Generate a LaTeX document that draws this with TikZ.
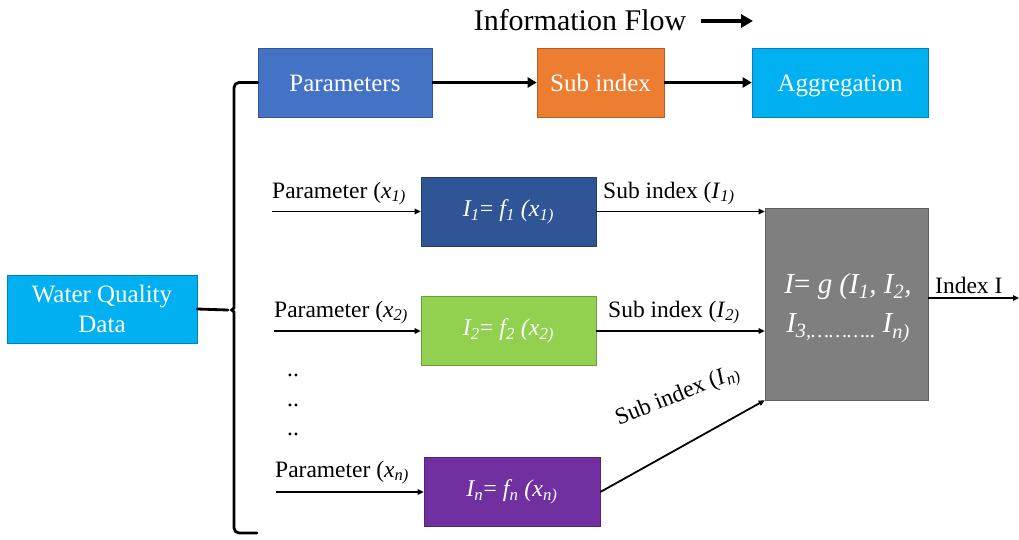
\documentclass[tikz,border=0pt]{standalone}
\usepackage{fontspec}
\setmainfont{Liberation Serif}
\usetikzlibrary{arrows.meta}
\definecolor{cParam}{HTML}{4472C4}
\definecolor{cSub}{HTML}{ED7D31}
\definecolor{cAgg}{HTML}{00B0F0}
\definecolor{cOne}{HTML}{2F5597}
\definecolor{cTwo}{HTML}{92D050}
\definecolor{cEnn}{HTML}{7030A0}
\definecolor{cGray}{HTML}{7F7F7F}
\newcommand{\sbi}[1]{\textsubscript{\itshape #1}}
\newcommand{\eqs}{{\upshape=}}
\begin{document}
\begin{tikzpicture}[x=1pt,y=-1pt,
  box/.style={draw=#1!75!black, fill=#1, line width=0.6pt, inner sep=0pt, text=white},
  boxtxt/.style={font=\fontsize{25}{30}\selectfont, text height=17pt, text depth=0pt},
  fml/.style={font=\fontsize{24}{28}\selectfont\itshape},
  lbl/.style={font=\fontsize{23.5}{27}\selectfont, inner sep=0pt},
  thinarr/.style={line width=1.8pt, -{Triangle[length=6pt,width=5.5pt]}},
  thickarr/.style={line width=3.2pt, -{Triangle[length=9pt,width=10pt]}},
  bracestyle/.style={line width=2.8pt, line cap=round, line join=round}]
\useasboundingbox (0,0) rectangle (1019,539);

% top row
\node[box=cParam, boxtxt, minimum width=174pt, minimum height=69pt] (par) at (345,82.5) {Parameters};
\node[box=cSub, boxtxt, minimum width=127pt, minimum height=69pt] (sub) at (600.5,82.5) {Sub index};
\node[box=cAgg, boxtxt, minimum width=176pt, minimum height=69pt] (agg) at (840,82.5) {Aggregation};
\draw[thickarr] (par) -- (sub);
\draw[thickarr] (sub) -- (agg);

% information flow
\node[font=\fontsize{30}{33}\selectfont, inner sep=0pt] (info) at (580,20) {Information Flow};
\coordinate (fa) at (701,21);
\coordinate (fb) at (753,21);
\draw[line width=4.5pt, -{Triangle[length=12pt,width=13pt]}] (fa) -- (fb);

% water quality data
\node[box=cAgg, align=center, minimum width=190pt, minimum height=68pt, font=\fontsize{25}{30}\selectfont] (wq) at (102,309) {Water Quality\\Data};

% brace
\coordinate (bt) at (228,310);
\coordinate (bb) at (257,533);
\draw[bracestyle] (wq.east) -- (bt);
\draw[bracestyle, rounded corners=5pt] (par.west) -| (234,300) -- (234,303)
   .. controls (234,308) and (231,310) .. (bt)
   .. controls (231,310) and (234,312) .. (234,317) |- (bb);

% formula boxes
\node[box=cOne, fml, minimum width=175pt, minimum height=69pt] (i1) at (508.5,211.5) {I\sbi{1}\eqs{} f\sbi{1} (x\sbi{1)}};
\node[box=cTwo, fml, minimum width=175pt, minimum height=69pt] (i2) at (508.5,331) {I\sbi{2}\eqs{} f\sbi{2} (x\sbi{2)}};
\node[box=cEnn, fml, minimum width=176pt, minimum height=69pt] (in) at (512,492) {I\sbi{n}\eqs{} f\sbi{n} (x\sbi{n)}};

% aggregation box
\node[box=cGray, minimum width=163pt, minimum height=192pt] (gr) at (846.5,304) {};
\node[text=white, font=\fontsize{29}{39}\selectfont\itshape, align=center, inner sep=0pt] (grt) at (848,308)
  {I\eqs{} g (I\sbi{1}, I\sbi{2},\\I\sbi{3,……….. }I\sbi{n)}};

% inputs
\coordinate (p1s) at (272,211.5);
\coordinate (p2s) at (274,331);
\coordinate (pns) at (276,492);
\node[lbl, anchor=base west] (p1) at (272,198) {Parameter (\textit{x}\sbi{1)}};
\node[lbl, anchor=base west] (p2) at (274,317) {Parameter (\textit{x}\sbi{2)}};
\node[lbl, anchor=base west] (pn) at (275,477) {Parameter (\textit{x}\sbi{n)}};
\draw[thinarr] (p1s) -- (i1.west);
\draw[thinarr] (p2s) -- (i2.west);
\draw[thinarr] (pns) -- (in.west);

\node[lbl] (d1) at (293,375) {..};
\node[lbl] (d2) at (293,405) {..};
\node[lbl] (d3) at (293,434) {..};

% outputs
\node[lbl, anchor=base west] (s1) at (603,198) {Sub index (\textit{I}\sbi{1)}};
\node[lbl, anchor=base west] (s2) at (608,317) {Sub index (\textit{I}\sbi{2)}};
\draw[thinarr] (i1.east) -- (gr.west |- i1.east);
\draw[thinarr] (i2.east) -- (gr.west |- i2.east);
\draw[thinarr] (in.east) -- (gr.south west);
\node[lbl, rotate=22] (sn) at (678,397) {Sub index (\textit{I}\sbi{n)}};

% output index
\coordinate (iout) at (1019,298);
\node[lbl, anchor=base west] (ix) at (935,293) {Index I};
\draw[thinarr] (gr.east |- iout) -- (iout);
\end{tikzpicture}
\end{document}
